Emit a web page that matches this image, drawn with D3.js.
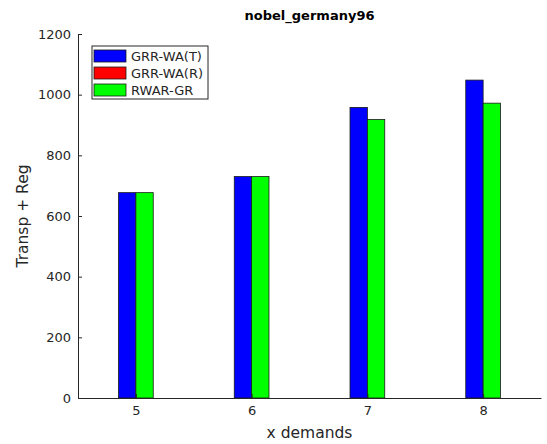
<!DOCTYPE html>
<html>
<head>
<meta charset="utf-8">
<script src="https://cdn.jsdelivr.net/npm/d3@7"></script>
<style>
  html, body { margin: 0; padding: 0; background: #fff; }
  svg { display: block; font-family: "DejaVu Sans", sans-serif; }
</style>
</head>
<body>
<svg id="chart" width="547" height="444"></svg>
<script>
// Demand counts on the x axis
const categories = [5, 6, 7, 8];
// Transport + regeneration cost per method
const grrWaT = [677, 730, 958, 1048];
const rwarGr = [677, 730, 918, 972];
// Legend entries (GRR-WA(R) appears in the legend only)
const seriesNames = ["GRR-WA(T)", "GRR-WA(R)", "RWAR-GR"];
const seriesColors = ["#0000ff", "#ff0000", "#00ff00"];
const yTicks = [0, 200, 400, 600, 800, 1000, 1200];

const svg = d3.select("#chart");
const plotLeft = 78, plotRight = 541, plotTop = 34, plotBottom = 398;

const x = d3.scaleLinear().domain([4.5, 8.5]).range([plotLeft, plotRight]);
const y = d3.scaleLinear().domain([0, 1200]).range([plotBottom, plotTop]);
const barW = 0.15;

// Bars: blue just left of the tick, green just right of it
const bars = [
  { values: grrWaT, color: seriesColors[0], offset: -barW },
  { values: rwarGr, color: seriesColors[2], offset: 0 }
];
bars.forEach(s => {
  svg.append("g").selectAll("rect")
    .data(categories.map((c, i) => ({ c, v: s.values[i] })))
    .join("rect")
    .attr("x", d => x(d.c + s.offset))
    .attr("width", d => x(d.c + s.offset + barW) - x(d.c + s.offset))
    .attr("y", d => y(d.v))
    .attr("height", d => y(0) - y(d.v))
    .attr("fill", s.color)
    .attr("stroke", "#1a1a1a")
    .attr("stroke-width", 0.8);
});

// Axes with inward ticks
const xAxis = d3.axisBottom(x).tickValues(categories).tickFormat(d3.format("d"))
  .tickSizeInner(-4).tickSizeOuter(0).tickPadding(8);
const yAxis = d3.axisLeft(y).tickValues(yTicks).tickFormat(d3.format("d"))
  .tickSizeInner(-4).tickSizeOuter(0).tickPadding(7);

const gx = svg.append("g").attr("transform", `translate(0,${plotBottom})`).call(xAxis);
const gy = svg.append("g").attr("transform", `translate(${plotLeft},0)`).call(yAxis);
[gx, gy].forEach(g => {
  g.select(".domain").attr("stroke", "#262626").attr("stroke-width", 1);
  g.selectAll(".tick line").attr("stroke", "#262626");
  g.selectAll(".tick text").attr("fill", "#262626")
    .style("font-family", "DejaVu Sans, sans-serif").style("font-size", "13px");
});

// Title and axis labels
svg.append("text").attr("x", (plotLeft + plotRight) / 2).attr("y", 20)
  .attr("text-anchor", "middle").attr("font-weight", "bold")
  .attr("font-size", 13).attr("fill", "#000").text("nobel_germany96");
svg.append("text").attr("x", (plotLeft + plotRight) / 2).attr("y", 438)
  .attr("text-anchor", "middle").attr("font-size", 15.5).attr("fill", "#262626")
  .text("x demands");
svg.append("text").attr("transform", `translate(28,${(plotTop + plotBottom) / 2}) rotate(-90)`)
  .attr("text-anchor", "middle").attr("font-size", 15.5).attr("fill", "#262626")
  .text("Transp + Reg");

// Legend
const lg = svg.append("g").attr("transform", "translate(92,46)");
lg.append("rect").attr("width", 116).attr("height", 53)
  .attr("fill", "#fff").attr("stroke", "#262626").attr("stroke-width", 1);
seriesNames.forEach((name, i) => {
  const row = lg.append("g").attr("transform", `translate(2,${4 + i * 17})`);
  row.append("rect").attr("width", 32).attr("height", 12)
    .attr("fill", seriesColors[i]).attr("stroke", "#1a1a1a").attr("stroke-width", 0.8);
  row.append("text").attr("x", 37).attr("y", 11)
    .attr("font-size", 13).attr("fill", "#262626").text(name);
});
</script>
</body>
</html>
